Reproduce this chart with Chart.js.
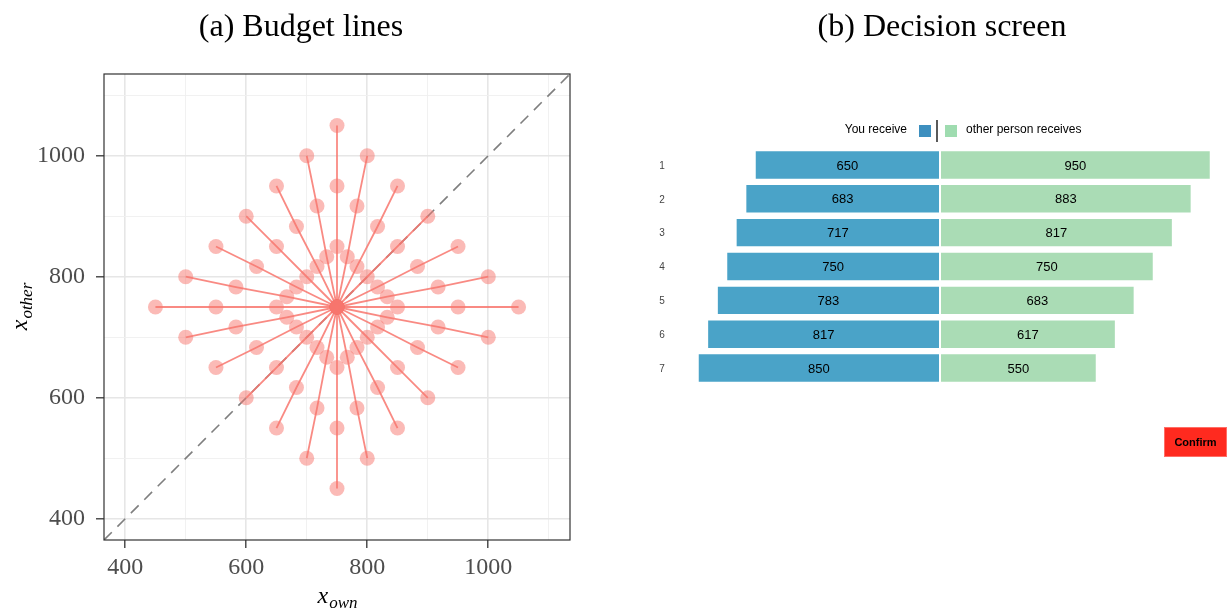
<!DOCTYPE html>
<html>
<head>
<meta charset="utf-8">
<script src="https://cdn.jsdelivr.net/npm/chart.js@4.4.1/dist/chart.umd.min.js"></script>
<style>
  body { margin: 0; background: #fff; width: 1229px; height: 609px; position: relative; overflow: hidden; }
  #budget { position: absolute; left: 0; top: 0; }
  #screen { position: absolute; left: 614px; top: 0; }
</style>
</head>
<body>
<canvas id="budget" width="614" height="609"></canvas>
<canvas id="screen" width="615" height="609"></canvas>
<script>
// (a) budget lines: 7 allocations per line, the 4th one is the shared centre
var lineOwn = [
  [750, 750, 750, 750, 750, 750, 750],
  [700, 717, 733, 750, 767, 783, 800],
  [800, 783, 767, 750, 733, 717, 700],
  [650, 683, 717, 750, 783, 817, 850],
  [850, 817, 783, 750, 717, 683, 650],
  [600, 650, 700, 750, 800, 850, 900],
  [900, 850, 800, 750, 700, 650, 600],
  [550, 617, 683, 750, 817, 883, 950],
  [950, 883, 817, 750, 683, 617, 550],
  [500, 583, 667, 750, 833, 917, 1000],
  [1000, 917, 833, 750, 667, 583, 500],
  [450, 550, 650, 750, 850, 950, 1050],
];
var lineOther = [
  [1050, 950, 850, 750, 650, 550, 450],
  [1000, 917, 833, 750, 667, 583, 500],
  [1000, 917, 833, 750, 667, 583, 500],
  [950, 883, 817, 750, 683, 617, 550],
  [950, 883, 817, 750, 683, 617, 550],
  [900, 850, 800, 750, 700, 650, 600],
  [900, 850, 800, 750, 700, 650, 600],
  [850, 817, 783, 750, 717, 683, 650],
  [850, 817, 783, 750, 717, 683, 650],
  [800, 783, 767, 750, 733, 717, 700],
  [800, 783, 767, 750, 733, 717, 700],
  [750, 750, 750, 750, 750, 750, 750],
];
var axisLimits = [365, 1135];
var gridValues = [400, 500, 600, 700, 800, 900, 1000, 1100];
var tickLabels = [400, 600, 800, 1000];

// (b) decision screen
var rows = ["1", "2", "3", "4", "5", "6", "7"];
var youReceive = [650, 683, 717, 750, 783, 817, 850];
var otherReceives = [950, 883, 817, 750, 683, 617, 550];
var screenRange = [-1000, 1000];

var serif = "'Liberation Serif', 'DejaVu Serif', serif";
var sans = "'Liberation Sans', Arial, sans-serif";

function isMajor(v) {
  return tickLabels.indexOf(v) !== -1;
}

// ---------- panel a ----------
var points = [];
var lineSets = [];
lineOwn.forEach(function (xs, i) {
  var pts = xs.map(function (x, j) {
    return { x: x, y: lineOther[i][j] };
  });
  points = points.concat(pts);
  lineSets.push({
    type: "line",
    data: pts,
    borderColor: "rgba(248, 118, 109, 0.85)",
    borderWidth: 1.8,
    pointRadius: 0,
    order: 2,
  });
});

var gridOpts = {
  color: function (c) { return isMajor(c.tick.value) ? "#e6e6e6" : "#efefef"; },
  lineWidth: function (c) { return isMajor(c.tick.value) ? 1.6 : 0.9; },
  tickColor: function (c) { return isMajor(c.tick.value) ? "#333333" : "rgba(0,0,0,0)"; },
  tickLength: 8,
  tickWidth: 1.3,
};
var tickOpts = {
  autoSkip: false,
  maxRotation: 0,
  color: "#4d4d4d",
  font: { family: serif, size: 24 },
  callback: function (v) { return isMajor(v) ? String(v) : ""; },
};

function drawSubscripted(ctx, main, sub, x, y) {
  ctx.font = "italic 24px " + serif;
  var w1 = ctx.measureText(main).width;
  ctx.font = "italic 17px " + serif;
  var w2 = ctx.measureText(sub).width;
  var left = x - (w1 + w2) / 2;
  ctx.textAlign = "left";
  ctx.textBaseline = "alphabetic";
  ctx.font = "italic 24px " + serif;
  ctx.fillText(main, left, y);
  ctx.font = "italic 17px " + serif;
  ctx.fillText(sub, left + w1 + 1, y + 5);
}

var budgetExtras = {
  id: "budgetExtras",
  afterDraw: function (chart) {
    var ctx = chart.ctx;
    var a = chart.chartArea;
    ctx.save();
    ctx.strokeStyle = "#333333";
    ctx.lineWidth = 1.2;
    ctx.strokeRect(a.left, a.top, a.right - a.left, a.bottom - a.top);

    ctx.fillStyle = "#000";
    ctx.font = "32px " + serif;
    ctx.textAlign = "center";
    ctx.textBaseline = "alphabetic";
    ctx.fillText("(a) Budget lines", 301, 36);

    drawSubscripted(ctx, "x", "own", (a.left + a.right) / 2, 603);

    ctx.translate(27, (a.top + a.bottom) / 2);
    ctx.rotate(-Math.PI / 2);
    drawSubscripted(ctx, "x", "other", 0, 0);
    ctx.restore();
  },
};

new Chart(document.getElementById("budget"), {
  type: "scatter",
  data: {
    datasets: [
      {
        data: points,
        backgroundColor: "rgba(248, 118, 109, 0.5)",
        borderWidth: 0,
        pointRadius: 7.5,
        order: 0,
      },
    ].concat(lineSets, [
      {
        type: "line",
        data: [
          { x: axisLimits[0], y: axisLimits[0] },
          { x: axisLimits[1], y: axisLimits[1] },
        ],
        borderColor: "#7f7f7f",
        borderWidth: 1.6,
        borderDash: [11, 8],
        pointRadius: 0,
        order: 3,
      },
    ]),
  },
  options: {
    responsive: false,
    animation: false,
    layout: { padding: { top: 74, right: 44, left: 0, bottom: 0 } },
    scales: {
      x: {
        type: "linear",
        min: axisLimits[0],
        max: axisLimits[1],
        afterBuildTicks: function (s) {
          s.ticks = gridValues.map(function (v) { return { value: v }; });
        },
        afterFit: function (s) { s.height = 69; },
        grid: gridOpts,
        border: { display: false },
        ticks: Object.assign({ padding: 5 }, tickOpts),
      },
      y: {
        type: "linear",
        min: axisLimits[0],
        max: axisLimits[1],
        afterBuildTicks: function (s) {
          s.ticks = gridValues.map(function (v) { return { value: v }; });
        },
        afterFit: function (s) { s.width = 104; },
        grid: gridOpts,
        border: { display: false },
        ticks: Object.assign({ padding: 11 }, tickOpts),
      },
    },
    plugins: {
      legend: { display: false },
      tooltip: { enabled: false },
    },
  },
  plugins: [budgetExtras],
});

// ---------- panel b ----------
var screenExtras = {
  id: "screenExtras",
  afterDraw: function (chart) {
    var ctx = chart.ctx;
    var ys = chart.scales.y;
    ctx.save();

    ctx.fillStyle = "#000";
    ctx.font = "32px " + serif;
    ctx.textAlign = "center";
    ctx.textBaseline = "alphabetic";
    ctx.fillText("(b) Decision screen", 328, 36);

    // row numbers
    ctx.fillStyle = "#444";
    ctx.font = "10px " + sans;
    ctx.textBaseline = "middle";
    rows.forEach(function (r, i) {
      ctx.fillText(r, 48, ys.getPixelForValue(i) + 1);
    });

    // amounts inside the bars
    ctx.fillStyle = "#000";
    ctx.font = "13px " + sans;
    chart.data.datasets.forEach(function (ds, d) {
      chart.getDatasetMeta(d).data.forEach(function (bar, i) {
        var v = Math.abs(ds.data[i]);
        ctx.fillText(String(v), (bar.x + bar.base) / 2, bar.y + 1);
      });
    });

    // legend
    ctx.font = "12px " + sans;
    ctx.textAlign = "right";
    ctx.fillText(chart.data.datasets[0].label, 293, 130);
    ctx.fillStyle = "#3d8fbf";
    ctx.fillRect(305, 125, 12, 12);
    ctx.fillStyle = "#9fdcb0";
    ctx.fillRect(331, 125, 12, 12);
    ctx.strokeStyle = "#000";
    ctx.lineWidth = 1.3;
    ctx.beginPath();
    ctx.moveTo(323, 120);
    ctx.lineTo(323, 142);
    ctx.stroke();
    ctx.fillStyle = "#000";
    ctx.textAlign = "left";
    ctx.fillText(chart.data.datasets[1].label, 352, 130);

    // confirm button
    ctx.fillStyle = "#ff2a1f";
    ctx.fillRect(550, 427, 63, 30);
    ctx.strokeStyle = "#ff6e66";
    ctx.lineWidth = 1;
    ctx.strokeRect(550.5, 427.5, 62, 29);
    ctx.fillStyle = "#000";
    ctx.font = "bold 11px " + sans;
    ctx.textAlign = "center";
    ctx.fillText("Confirm", 581.5, 443);
    ctx.restore();
  },
};

new Chart(document.getElementById("screen"), {
  type: "bar",
  data: {
    labels: rows,
    datasets: [
      {
        label: "You receive",
        data: youReceive.map(function (v) { return -v; }),
        backgroundColor: "#4aa3c8",
        borderColor: "rgba(255,255,255,0.45)",
        borderWidth: 1,
        borderSkipped: false,
        barPercentage: 0.87,
        categoryPercentage: 1,
      },
      {
        label: "other person receives",
        data: otherReceives,
        backgroundColor: "#aadcb5",
        borderColor: "rgba(255,255,255,0.45)",
        borderWidth: 1,
        borderSkipped: false,
        barPercentage: 0.87,
        categoryPercentage: 1,
      },
    ],
  },
  options: {
    indexAxis: "y",
    responsive: false,
    animation: false,
    layout: { padding: { top: 148, bottom: 224, left: 41, right: 4 } },
    scales: {
      x: { stacked: true, display: false, min: screenRange[0], max: screenRange[1] },
      y: { stacked: true, display: false },
    },
    plugins: {
      legend: { display: false },
      tooltip: { enabled: false },
    },
  },
  plugins: [screenExtras],
});
</script>
</body>
</html>
